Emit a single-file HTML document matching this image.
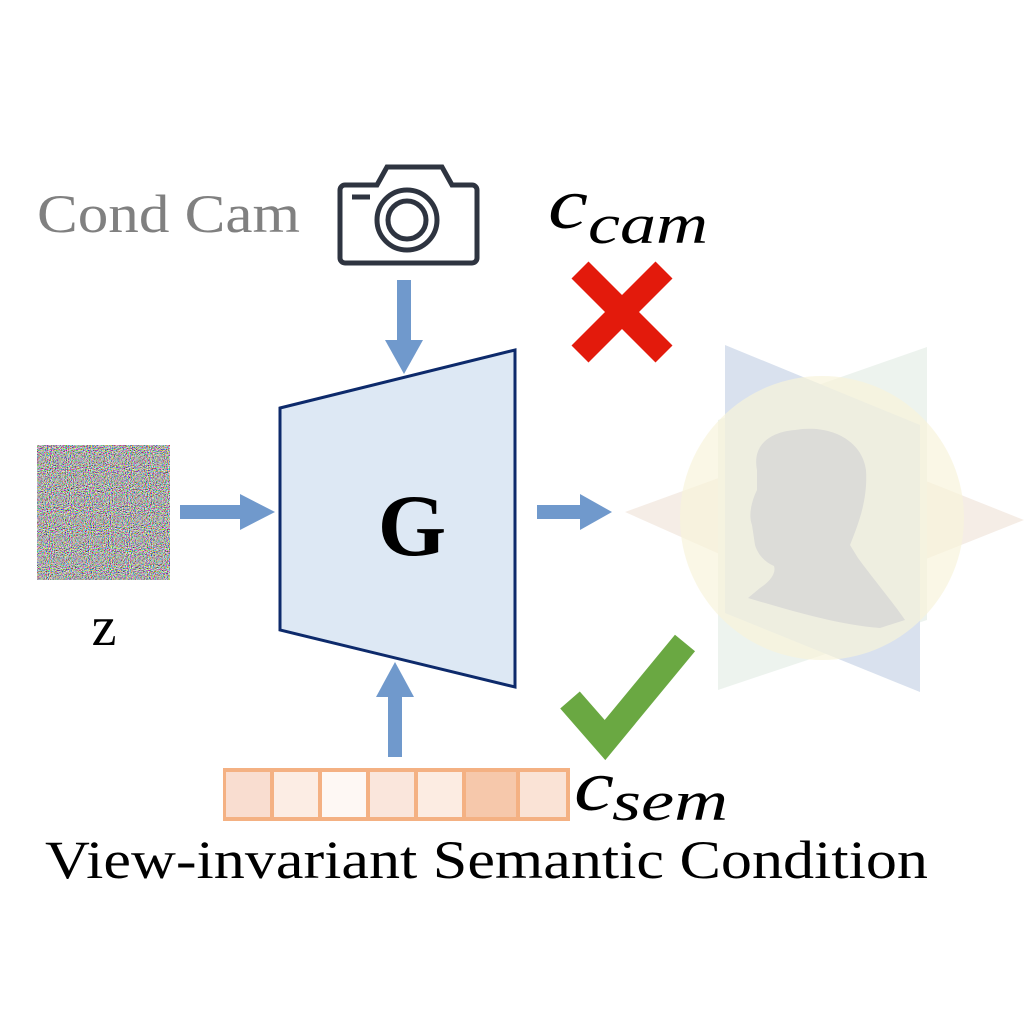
<!DOCTYPE html>
<html><head><style>html,body{margin:0;padding:0;background:#fff;}</style></head><body>
<svg width="1024" height="1024" viewBox="0 0 1024 1024" xmlns="http://www.w3.org/2000/svg">
<defs>
<filter id="nz" x="0" y="0" width="100%" height="100%">
<feTurbulence type="fractalNoise" baseFrequency="0.95" numOctaves="1" seed="3"/>
<feColorMatrix type="matrix" values="2.6 0 0 0 -0.85  0 2.6 0 0 -0.85  0 0 2.6 0 -0.85  0 0 0 0 1"/>
</filter>
</defs>
<rect width="1024" height="1024" fill="#fff"/>
<g opacity="0.7">
<polygon points="625,512 823,440 1024,520 823,600" fill="#f1e6dc"/>
<polygon points="927,347 927,620 718,690 718,420" fill="#e6efe8"/>
<polygon points="725,345 920,425 920,692 725,613" fill="#c9d5e8"/>
<circle cx="822" cy="518" r="142" fill="#f5efcc" opacity="0.7"/>
</g>
<path d="M757,470 C752,445 770,432 795,430 C830,424 862,440 866,470 C868,500 858,525 850,545 L858,558 C878,585 895,605 905,620 L880,628 C840,625 795,612 748,598 L760,588 C772,580 776,572 774,566 C765,562 758,555 755,545 L752,525 C748,515 752,500 757,490 Z" fill="#dcdcd8"/>
<rect x="37" y="445" width="133" height="135" filter="url(#nz)"/>
<text x="104" y="645" font-family="Liberation Serif, serif" font-size="56" text-anchor="middle">z</text>
<polygon points="280,408 515,350 515,687 280,630" fill="#dde8f4" stroke="#0d2a6b" stroke-width="3"/>
<text x="412" y="555" font-family="Liberation Serif, serif" font-weight="bold" font-size="88" text-anchor="middle">G</text>
<g fill="#7099cc">
<rect x="397" y="280" width="14" height="62"/><polygon points="385,340 423,340 404,374"/>
<rect x="180" y="505" width="62" height="14"/><polygon points="240,494 240,530 275,512"/>
<rect x="537" y="505" width="45" height="14"/><polygon points="580,494 580,530 612,512"/>
<rect x="388" y="695" width="14" height="62"/><polygon points="376,697 414,697 395,662"/>
</g>
<g fill="none" stroke="#2e3440" stroke-width="5">
<path d="M345,185 h32 l10,-18 h55 l10,18 h20 a5,5 0 0 1 5,5 v68 a5,5 0 0 1 -5,5 h-127 a5,5 0 0 1 -5,-5 v-68 a5,5 0 0 1 5,-5 z"/>
<circle cx="407" cy="220" r="30"/>
<circle cx="407" cy="220" r="19"/>
<line x1="352" y1="197" x2="370" y2="197"/>
</g>
<text x="37" y="232" font-family="Liberation Serif, serif" font-size="54" fill="#808080" textLength="263" lengthAdjust="spacingAndGlyphs">Cond Cam</text>
<text x="548" y="228" font-family="Liberation Serif, serif" font-style="italic" font-size="72" textLength="40" lengthAdjust="spacingAndGlyphs">c</text>
<text x="588" y="243" font-family="Liberation Serif, serif" font-style="italic" font-size="56" textLength="120" lengthAdjust="spacingAndGlyphs">cam</text>
<g stroke="#e31a0c" stroke-width="24">
<line x1="580" y1="270" x2="664" y2="354"/><line x1="664" y1="270" x2="580" y2="354"/>
</g>
<polyline points="570,700 605,740 685,643" fill="none" stroke="#6aa842" stroke-width="26"/>
<rect x="223" y="768" width="347" height="53" fill="#f4b183"/>
<g>
<rect x="226" y="772" width="44" height="45" fill="#f9ddd0"/>
<rect x="274" y="772" width="44" height="45" fill="#fcede4"/>
<rect x="322" y="772" width="44" height="45" fill="#fef8f4"/>
<rect x="370" y="772" width="44" height="45" fill="#fae6dc"/>
<rect x="418" y="772" width="44" height="45" fill="#fcece2"/>
<rect x="466" y="772" width="50" height="45" fill="#f6c8ab"/>
<rect x="520" y="772" width="46" height="45" fill="#fae3d6"/>
</g>
<text x="574" y="810" font-family="Liberation Serif, serif" font-style="italic" font-size="72" textLength="40" lengthAdjust="spacingAndGlyphs">c</text>
<text x="612" y="820" font-family="Liberation Serif, serif" font-style="italic" font-size="56" textLength="116" lengthAdjust="spacingAndGlyphs">sem</text>
<text x="45" y="878" font-family="Liberation Serif, serif" font-size="54" textLength="883" lengthAdjust="spacingAndGlyphs">View-invariant Semantic Condition</text>
</svg>
</body></html>
